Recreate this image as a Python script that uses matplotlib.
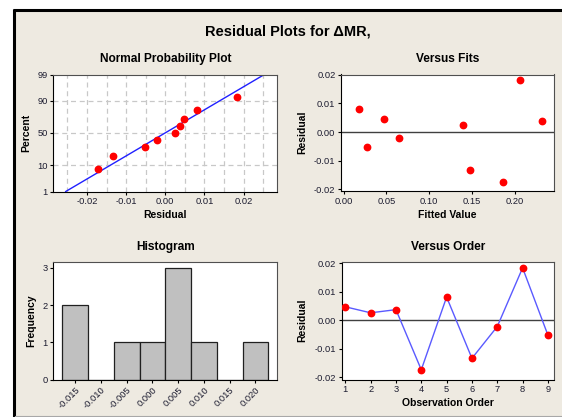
import matplotlib
matplotlib.use("Agg")
import matplotlib.pyplot as plt
from matplotlib.patches import Rectangle
from matplotlib.lines import Line2D
from matplotlib.ticker import FormatStrFormatter
from statistics import NormalDist, mean, stdev

plt.rcParams['font.family'] = ['Liberation Sans', 'DejaVu Sans']

# ---------------- data ----------------
observation_order = [1, 2, 3, 4, 5, 6, 7, 8, 9]
residuals = [0.0047, 0.0026, 0.0037, -0.0173, 0.0081, -0.0133, -0.0022, 0.0183, -0.0052]
fitted_values = [0.047, 0.139, 0.232, 0.186, 0.018, 0.148, 0.065, 0.206, 0.027]

prob_ticks = [1, 10, 50, 90, 99]
prob_xticks = [-0.02, -0.01, 0.00, 0.01, 0.02]
hist_centers = [-0.015, -0.010, -0.005, 0.000, 0.005, 0.010, 0.015, 0.020]
hist_labels = ["-0.015", "-0.010", "-0.005", "0.000", "0.005", "0.010", "0.015", "0.020"]
hist_yticks = [0, 1, 2, 3]
fit_xticks = [0.00, 0.05, 0.10, 0.15, 0.20]
resid_yticks = [-0.02, -0.01, 0.00, 0.01, 0.02]

title_main = "Residual Plots for \u0394MR,"

# ---------------- figure ----------------
W, H = 562, 417
fig = plt.figure(figsize=(W / 100, H / 100), dpi=100)
fig.patch.set_facecolor('white')

def fx(px):
    return px / W

def fy(py):
    return 1 - py / H

BG = '#EEEAE1'
fig.patches.append(Rectangle((fx(14), fy(415.5)), fx(W) - fx(14), fy(10) - fy(415.5),
                             transform=fig.transFigure, facecolor=BG, edgecolor='none', zorder=-10))
fig.lines.append(Line2D([fx(14), fx(14)], [fy(8.5), fy(417)], transform=fig.transFigure,
                        color='black', lw=2.2, solid_capstyle='butt', zorder=-5))
fig.lines.append(Line2D([fx(12.5), fx(W)], [fy(10), fy(10)], transform=fig.transFigure,
                        color='black', lw=2.2, solid_capstyle='butt', zorder=-5))
fig.lines.append(Line2D([fx(15), fx(W)], [fy(415.5), fy(415.5)], transform=fig.transFigure,
                        color='#A8A8A8', lw=0.8, zorder=-5))

TICKC = '#1c1c30'

def make_axes(l, r, t, b):
    ax = fig.add_axes([fx(l), fy(b), fx(r) - fx(l), fy(t) - fy(b)])
    ax.set_facecolor('white')
    for s in ax.spines.values():
        s.set_color('black')
        s.set_linewidth(0.8)
    ax.spines['top'].set_color('#505050')
    ax.spines['right'].set_color('#505050')
    ax.tick_params(direction='out', length=2.5, width=0.8, pad=1.5,
                   labelsize=6.7, labelcolor=TICKC, color='black')
    return ax

TS = 8.6   # subplot title size
LS = 7.5   # axis label size

def sub_title(ax_l, ax_r, ax_t, text):
    fig.text(fx((ax_l + ax_r) / 2), fy(ax_t - 12.5), text, ha='center', va='baseline',
             fontsize=TS, fontweight='bold', color='black')

def xlabel(ax_l, ax_r, ax_b, text):
    fig.text(fx((ax_l + ax_r) / 2), fy(ax_b + 27), text, ha='center', va='baseline',
             fontsize=LS, fontweight='bold', color='black')

def ylabel(xc, ax_t, ax_b, text):
    fig.text(fx(xc), fy((ax_t + ax_b) / 2), text, ha='center', va='center', rotation=90,
             fontsize=LS, fontweight='bold', color='black')

fig.text(fx(288), fy(35.5), title_main, ha='center', va='baseline',
         fontsize=10.5, fontweight='bold', color='black')

nd = NormalDist()

# ---- Normal probability plot ----
L1, R1, T1, B1 = 53.3, 277.3, 74.5, 191.5
ax1 = make_axes(L1, R1, T1, B1)
n = len(residuals)
sorted_res = sorted(residuals)
zvals = [nd.inv_cdf((i + 1 - 0.3) / (n + 0.4)) for i in range(n)]
mu, sd = mean(residuals), stdev(residuals)
z_lo, z_hi = nd.inv_cdf(prob_ticks[0] / 100), nd.inv_cdf(prob_ticks[-1] / 100)
ax1.set_xlim(-0.0286, 0.0286)
ax1.set_ylim(z_lo, z_hi)
for gx in [-0.025, -0.02, -0.015, -0.01, -0.005, 0.0, 0.005, 0.01, 0.015, 0.02, 0.025]:
    ax1.axvline(gx, color='#C8C8C8', lw=0.9, ls=(0, (4, 3)), zorder=1)
for p in prob_ticks[1:-1]:
    ax1.axhline(nd.inv_cdf(p / 100), color='#C8C8C8', lw=0.9, ls=(0, (4, 3)), zorder=1)
ax1.plot([mu + sd * z_lo, mu + sd * z_hi], [z_lo, z_hi], color='#2020FF', lw=1.0, zorder=2)
ax1.plot(sorted_res, zvals, 'o', color='#FF0000', ms=4.6, mec='#FF0000', zorder=3)
ax1.set_yticks([nd.inv_cdf(p / 100) for p in prob_ticks])
ax1.set_yticklabels([str(p) for p in prob_ticks])
ax1.set_xticks(prob_xticks)
ax1.xaxis.set_major_formatter(FormatStrFormatter('%.2f'))
sub_title(L1, R1, T1, "Normal Probability Plot")
xlabel(L1, R1, B1, "Residual")
ylabel(26, T1, B1, "Percent")

# ---- Versus Fits ----
L2, R2, T2, B2 = 341.0, 553.5, 74.5, 191.0
ax2 = make_axes(L2, R2, T2, B2)
ax2.set_xlim(-0.003, 0.2453)
ax2.set_ylim(-0.0206, 0.0201)
ax2.axhline(0, color='#404040', lw=1.0, zorder=1)
ax2.plot(fitted_values, residuals, 'o', color='#FF0000', ms=4.6, mec='#FF0000', zorder=3)
ax2.set_xticks(fit_xticks)
ax2.set_yticks(resid_yticks)
ax2.xaxis.set_major_formatter(FormatStrFormatter('%.2f'))
ax2.yaxis.set_major_formatter(FormatStrFormatter('%.2f'))
sub_title(L2, R2, T2, "Versus Fits")
xlabel(L2, R2, B2, "Fitted Value")
ylabel(302, T2, B2, "Residual")

# ---- Histogram ----
L3, R3, T3, B3 = 53.3, 277.3, 262.0, 379.5
ax3 = make_axes(L3, R3, T3, B3)
bw = hist_centers[1] - hist_centers[0]
edges = [c - bw / 2 for c in hist_centers] + [hist_centers[-1] + bw / 2]
ax3.hist(residuals, bins=edges, color='#C0C0C0', edgecolor='#202020', linewidth=0.9, zorder=2)
ax3.set_xlim(-0.01925, 0.02425)
ax3.set_ylim(0, 3.16)
ax3.set_yticks(hist_yticks)
ax3.set_xticks(hist_centers)
ax3.set_xticklabels(hist_labels, rotation=45, ha='right', va='top', rotation_mode='anchor')
sub_title(L3, R3, T3, "Histogram")
ylabel(31.5, T3, B3, "Frequency")

# ---- Versus Order ----
L4, R4, T4, B4 = 341.5, 554.0, 262.0, 379.5
ax4 = make_axes(L4, R4, T4, B4)
ax4.set_xlim(0.85, 9.24)
ax4.set_ylim(-0.0207, 0.02035)
ax4.axhline(0, color='#404040', lw=1.0, zorder=1)
ax4.plot(observation_order, residuals, '-', color='#5a5aff', lw=1.0, zorder=2)
ax4.plot(observation_order, residuals, 'o', color='#FF0000', ms=4.6, mec='#FF0000', zorder=3)
ax4.set_xticks(observation_order)
ax4.set_yticks(resid_yticks)
ax4.yaxis.set_major_formatter(FormatStrFormatter('%.2f'))
sub_title(L4, R4, T4, "Versus Order")
xlabel(L4, R4, B4, "Observation Order")
ylabel(302, T4, B4, "Residual")

fig.savefig("out.png", dpi=100)
